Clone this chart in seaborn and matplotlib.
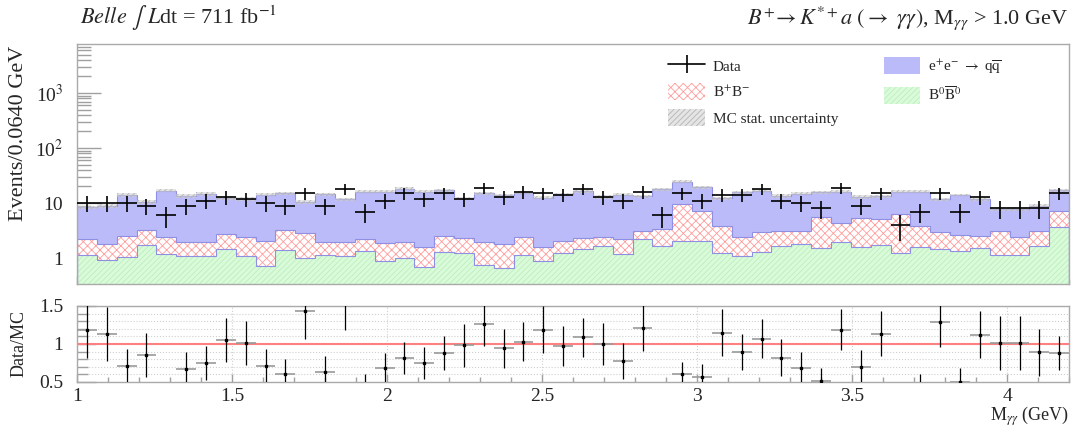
import numpy as np
import pandas as pd
import matplotlib
matplotlib.use("Agg")
import matplotlib.pyplot as plt
import seaborn as sns
from matplotlib.patches import Patch
from matplotlib.lines import Line2D
from matplotlib.ticker import FixedLocator, FixedFormatter, MultipleLocator, NullFormatter, LogLocator, FuncFormatter

# Binning of the di-photon mass
mass_lo = 1.0
mass_hi = 4.2
n_bins = 50

# Observed events per bin
n_data = [10, 10, 10, 9, 6, 9, 11, 13, 12, 10,
          9, 15, 9, 18, 7, 11, 15, 12, 15, 12,
          19, 13, 16, 15, 14, 18, 13, 11, 16, 6,
          15, 11, 14, 14, 18, 11, 10, 8, 19, 9,
          15, 4, 7, 15, 7, 13, 8, 8, 8, 15]

# MC expectations per bin
bb_neutral = [1.12, 0.92, 1.06, 1.75, 1.18, 1.09, 1.09, 1.48, 1.09, 0.72,
              1.40, 1.01, 1.12, 1.09, 1.32, 0.88, 0.99, 0.68, 1.30, 1.22,
              0.74, 0.66, 1.12, 0.87, 1.22, 1.46, 1.68, 1.18, 2.18, 1.68,
              2.04, 2.04, 1.22, 1.09, 1.30, 1.68, 1.80, 1.50, 1.98, 1.61,
              1.72, 1.22, 1.56, 1.48, 1.34, 1.54, 1.15, 1.15, 1.68, 3.61]
bb_charged = [1.06, 0.85, 1.49, 1.44, 1.26, 0.89, 0.89, 1.25, 1.35, 1.32,
              1.79, 1.80, 0.83, 0.86, 0.93, 1.02, 0.94, 0.88, 1.25, 1.06,
              1.24, 1.14, 1.26, 0.74, 0.79, 0.82, 0.76, 1.00, 0.92, 1.64,
              7.42, 5.22, 2.60, 1.29, 1.71, 1.46, 1.30, 3.98, 2.29, 3.80,
              3.40, 5.00, 2.26, 1.45, 1.28, 1.01, 1.99, 1.29, 1.46, 3.55]
qq_cont = [6.22, 7.08, 11.55, 7.31, 14.26, 11.42, 12.72, 9.67, 9.46, 12.06,
           11.81, 7.69, 12.35, 9.65, 13.75, 14.30, 16.37, 14.44, 14.45, 9.92,
           13.02, 12.00, 13.12, 10.99, 12.39, 14.22, 10.56, 11.92, 10.10, 14.38,
           15.14, 12.04, 8.38, 13.22, 13.79, 10.26, 11.60, 10.22, 11.73, 7.59,
           8.08, 9.78, 12.18, 8.67, 11.38, 9.05, 4.76, 5.46, 5.86, 9.84]
# Relative MC statistical uncertainty per bin
mc_rel_err = [0.07, 0.07, 0.08, 0.07, 0.06, 0.07, 0.07, 0.07, 0.07, 0.06,
              0.07, 0.08, 0.06, 0.07, 0.06, 0.06, 0.06, 0.06, 0.06, 0.07,
              0.06, 0.06, 0.06, 0.07, 0.06, 0.06, 0.07, 0.06, 0.07, 0.06,
              0.06, 0.06, 0.07, 0.06, 0.06, 0.07, 0.06, 0.06, 0.06, 0.07,
              0.07, 0.06, 0.06, 0.07, 0.06, 0.07, 0.08, 0.08, 0.08, 0.06]

y_ticks = [1, 10, 100, 1000]
y_tick_labels = ["1", "10", "10$^{2}$", "10$^{3}$"]

edges = np.linspace(mass_lo, mass_hi, n_bins + 1)
centers = 0.5 * (edges[:-1] + edges[1:])
half_w = 0.5 * (edges[1] - edges[0])

data = np.array(n_data, dtype=float)
green_top = np.array(bb_neutral)
red_top = green_top + np.array(bb_charged)
mc_total = red_top + np.array(qq_cont)
mc_err = mc_total * np.array(mc_rel_err)

sns.set_theme(style="ticks")
plt.rcParams["font.family"] = ["Liberation Serif", "DejaVu Serif"]
plt.rcParams["mathtext.fontset"] = "stix"
plt.rcParams["hatch.linewidth"] = 0.6
plt.rcParams["axes.edgecolor"] = "#aaaaaa"
plt.rcParams["axes.linewidth"] = 1.0

fig = plt.figure(figsize=(10.76, 4.28), dpi=100)
ax = fig.add_axes([0.0716, 0.3364, 0.922, 0.5607])
axr = fig.add_axes([0.0716, 0.1075, 0.922, 0.1776])

# Stacked MC: draw cumulative layers from the top down
stack_df = pd.DataFrame({"mass": centers, "total": mc_total,
                         "charged_top": red_top, "neutral_top": green_top})
outline = "#8f8fe3"
layers = [
    ("total", "#bbbbf9", None, "#bbbbf9"),
    ("charged_top", "#ffffff", "xxxx", "#ff9c9c"),
    ("neutral_top", "#d9fbd9", "//////", "#bdeebd"),
]
for col, face, hatch, hcol in layers:
    n_before = len(ax.collections)
    sns.histplot(data=stack_df, x="mass", weights=col, bins=list(edges), element="step",
                 fill=True, ax=ax, color=face, alpha=1, linewidth=0)
    for coll in ax.collections[n_before:]:
        coll.set_facecolor(face)
        coll.set_edgecolor(hcol)
        coll.set_linewidth(0)
        if hatch:
            coll.set_hatch(hatch)

for cum in (mc_total, red_top, green_top):
    ax.stairs(cum, edges, color=outline, lw=0.8)

# MC statistical uncertainty band
ax.stairs(mc_total + mc_err, edges, baseline=mc_total - mc_err, fill=True,
          facecolor=(0.82, 0.82, 0.82, 0.55), edgecolor="#b4b4b4", hatch="//////", lw=0)

# Data
ax.errorbar(centers, data, xerr=half_w, yerr=np.sqrt(data), fmt="none",
            ecolor="black", elinewidth=1.2, capsize=0, zorder=5)

ax.set_yscale("log")
ax.set_xlim(mass_lo, mass_hi)
ax.set_ylim(0.337, 7780)
ax.yaxis.set_major_locator(FixedLocator(y_ticks))
ax.yaxis.set_major_formatter(FixedFormatter(y_tick_labels))
ax.yaxis.set_minor_locator(LogLocator(base=10, subs=np.arange(2, 10)))
ax.yaxis.set_minor_formatter(NullFormatter())
ax.xaxis.set_major_locator(MultipleLocator(0.5))
ax.xaxis.set_minor_locator(MultipleLocator(0.1))
ax.tick_params(axis="x", labelbottom=False)
ax.set_xlabel("")
ax.set_ylabel("Events/0.0640 GeV", fontsize=16)
ax.yaxis.set_label_coords(-0.049, 0.63)

# Ratio panel
ratio = data / mc_total
ratio_err = np.sqrt(data) / mc_total
axr.axhline(1.0, color="#ff8080", lw=1.5, zorder=1)
axr.errorbar(centers, ratio, xerr=half_w, fmt="none", ecolor="#9a9a9a",
             elinewidth=1.2, capsize=0, zorder=3)
axr.errorbar(centers, ratio, yerr=ratio_err, fmt="s", ms=2, color="black",
             ecolor="black", elinewidth=0.9, capsize=0, zorder=4)
axr.set_xlim(mass_lo, mass_hi)
axr.set_ylim(0.5, 1.5)
axr.yaxis.set_major_locator(FixedLocator([0.5, 1.0, 1.5]))
axr.yaxis.set_major_formatter(FuncFormatter(lambda v, p: f"{v:g}"))
axr.yaxis.set_minor_locator(MultipleLocator(0.1))
axr.xaxis.set_major_locator(MultipleLocator(0.5))
axr.xaxis.set_major_formatter(FuncFormatter(lambda v, p: f"{v:g}"))
axr.xaxis.set_minor_locator(MultipleLocator(0.1))
axr.grid(True, which="major", axis="x", color="#cfcfcf", ls=":", lw=0.8)
axr.grid(True, which="both", axis="y", color="#cfcfcf", ls=":", lw=0.8)
axr.set_axisbelow(True)
axr.set_ylabel("Data/MC", fontsize=13)
axr.yaxis.set_label_coords(-0.05, 0.5)
axr.set_xlabel(r"M$_{\gamma\gamma}$ (GeV)", fontsize=13)
axr.xaxis.label.set_ha("right")
axr.xaxis.set_label_coords(1.0, -0.30)

for a in (ax, axr):
    for s in a.spines.values():
        s.set_color("#aaaaaa")
        s.set_linewidth(1.0)
    a.tick_params(which="both", direction="in", color="#a0a0a0", top=False, right=False,
                  labelsize=14)
ax.tick_params(axis="y", which="both", pad=10)
ax.tick_params(axis="y", which="major", length=17, width=1)
ax.tick_params(axis="y", which="minor", length=10, width=1)
ax.tick_params(axis="x", which="major", length=6, width=1)
ax.tick_params(axis="x", which="minor", length=3.5, width=1)
axr.tick_params(axis="y", which="both", pad=10)
axr.tick_params(axis="x", which="both", pad=4)
axr.tick_params(axis="y", which="major", length=14, width=1)
axr.tick_params(axis="y", which="minor", length=8, width=1)
axr.tick_params(axis="x", which="major", length=6, width=1)
axr.tick_params(axis="x", which="minor", length=3.5, width=1)

# Legend
handles = [
    Line2D([], [], color="black", lw=1.2, marker="|", markersize=13, mew=1.2),
    Patch(facecolor="white", edgecolor="#ff9c9c", hatch="xxxx", lw=0),
    Patch(facecolor=(0.82, 0.82, 0.82, 0.55), edgecolor="#b4b4b4", hatch="//////", lw=0),
    Patch(facecolor="#bbbbf9", edgecolor="#bbbbf9", lw=0),
    Patch(facecolor="#d9fbd9", edgecolor="#bdeebd", hatch="//////", lw=0),
]
labels = [
    "Data",
    "B$^{+}$B$^{-}$",
    "MC stat. uncertainty",
    r"e$^{+}$e$^{-}$ $\rightarrow$ q$\overline{\mathrm{q}}$",
    r"B$^{0}$$\overline{\mathrm{B}}^{0}$",
]
ax.legend(handles, labels, loc="upper left", bbox_to_anchor=(0.596, 0.945), ncol=2,
          frameon=False, fontsize=11, handlelength=2.4, handleheight=1.3,
          labelspacing=0.62, columnspacing=3.0, handletextpad=0.5, borderpad=0,
          borderaxespad=0)

fig.text(80 / 1076, 1 - 18 / 428, r"$\mathit{Belle}$ $\int\,\,L$dt = 711 fb$^{-1}$",
         fontsize=16, va="center", ha="left")
fig.text(1068 / 1076, 1 - 18 / 428,
         r"$B^{+}\!\rightarrow K^{*+}a\ (\rightarrow\ \gamma\gamma)$, M$_{\gamma\gamma}$ > 1.0 GeV",
         fontsize=16, va="center", ha="right")

fig.savefig("out.png", dpi=100)
